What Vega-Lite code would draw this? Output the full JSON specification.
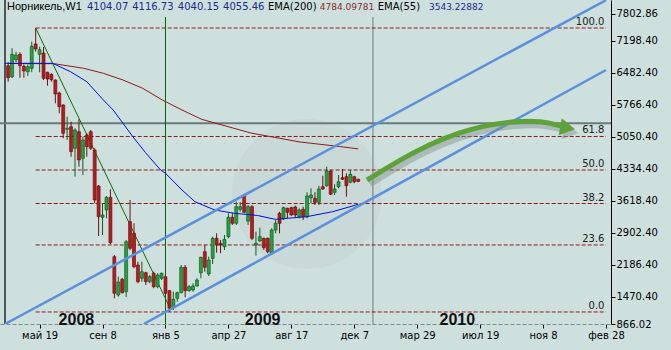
{
"$schema": "https://vega.github.io/schema/vega-lite/v6.json",
"width": 611, "height": 324,
"autosize": {"type": "none"},
"padding": {"left": 0, "top": 0, "right": 60, "bottom": 26},
"background": "#cee0de",
"config": {"view": {"stroke": null, "fill": "#cee0de"}, "font": "DejaVu Sans"},
"data": {"values": [{"one": 1}]},
"datasets": {
"candles": [
{"i":0,"o":6645.8,"h":6721.8,"l":6287.8,"c":6377.3},
{"i":1,"o":6399.6,"h":7035.1,"l":6370.5,"c":6900.8},
{"i":2,"o":6780,"h":6959,"l":6721.8,"c":6885.1},
{"i":3,"o":6900.8,"h":6945.6,"l":6377.3,"c":6645.8},
{"i":4,"o":6632.3,"h":6677.1,"l":6377.3,"c":6527.2},
{"i":5,"o":6511.5,"h":6677.1,"l":6415.3,"c":6623.4},
{"i":6,"o":6587.6,"h":7182.7,"l":6498.1,"c":7079.8},
{"i":7,"o":7131.3,"h":7489,"l":6959,"c":7019.4},
{"i":8,"o":6900.8,"h":7070.9,"l":6498.1,"c":7003.7},
{"i":9,"o":6929.9,"h":7064.2,"l":6325.8,"c":6363.8},
{"i":10,"o":6498.1,"h":6511.5,"l":6198.3,"c":6348.2},
{"i":11,"o":6453.3,"h":6475.7,"l":6287.8,"c":6332.5},
{"i":12,"o":6325.8,"h":6341.5,"l":5804.5,"c":6012.5},
{"i":13,"o":6034.9,"h":6064,"l":5580.7,"c":5728.4},
{"i":14,"o":5766.4,"h":5782.1,"l":5021.3,"c":5133.2},
{"i":15,"o":5222.7,"h":5504.6,"l":4983.3,"c":5245.1},
{"i":16,"o":5280.9,"h":5392.8,"l":4609.6,"c":4721.5},
{"i":17,"o":4797.6,"h":5245.1,"l":4162.1,"c":5207},
{"i":18,"o":5169,"h":5446.4,"l":4385.9,"c":4535.8},
{"i":19,"o":4573.8,"h":5057.1,"l":4200.2,"c":4983.3},
{"i":20,"o":5095.2,"h":5133.2,"l":4609.6,"c":4833.4},
{"i":21,"o":5169,"h":5207,"l":4759.5,"c":4797.6},
{"i":22,"o":4759.5,"h":4797.6,"l":3567,"c":3640.8},
{"i":23,"o":3954,"h":3976.4,"l":2835.3,"c":3267.1},
{"i":24,"o":3253.7,"h":3567,"l":2857.7,"c":3305.2},
{"i":25,"o":3417,"h":3730.3,"l":3231.3,"c":3701.2},
{"i":26,"o":3701.2,"h":3880.2,"l":2656.3,"c":2685.4},
{"i":27,"o":2372.1,"h":2410.2,"l":1441.3,"c":1553.2},
{"i":28,"o":1515.2,"h":1924.6,"l":1477.1,"c":1806},
{"i":29,"o":1866.5,"h":1895.5,"l":1548.7,"c":1566.6},
{"i":30,"o":1589,"h":2745.8,"l":1470.4,"c":2707.8},
{"i":31,"o":3155.3,"h":3640.8,"l":2522,"c":2560.1},
{"i":32,"o":2895.7,"h":3119.5,"l":2112.6,"c":2148.4},
{"i":33,"o":2186.4,"h":2260.3,"l":1777,"c":1812.8},
{"i":34,"o":1888.8,"h":2260.3,"l":1812.8,"c":2036.5},
{"i":35,"o":2014.1,"h":2036.5,"l":1738.9,"c":1812.8},
{"i":36,"o":1812.8,"h":1962.7,"l":1777,"c":1924.6},
{"i":37,"o":2000.7,"h":2036.5,"l":1665.1,"c":1700.9},
{"i":38,"o":1700.9,"h":2000.7,"l":1665.1,"c":1962.7},
{"i":39,"o":1888.8,"h":2014.1,"l":1850.8,"c":2000.7},
{"i":40,"o":1924.6,"h":1962.7,"l":1515.2,"c":1553.2},
{"i":41,"o":1611.4,"h":1627,"l":1134.8,"c":1217.6},
{"i":42,"o":1240,"h":1589,"l":1179.5,"c":1419},
{"i":43,"o":1441.3,"h":1589,"l":1365.3,"c":1566.6},
{"i":44,"o":1566.6,"h":2186.4,"l":1553.2,"c":2135},
{"i":45,"o":2135,"h":2186.4,"l":1463.7,"c":1611.4},
{"i":46,"o":1611.4,"h":1738.9,"l":1589,"c":1700.9},
{"i":47,"o":1627,"h":1777,"l":1589,"c":1716.5},
{"i":48,"o":1716.5,"h":1888.8,"l":1700.9,"c":1850.8},
{"i":49,"o":2014.1,"h":2372.1,"l":1888.8,"c":2358.7},
{"i":50,"o":2484,"h":2633.9,"l":2036.5,"c":2135},
{"i":51,"o":1985,"h":2372.1,"l":1940.3,"c":2298.3},
{"i":52,"o":2336.3,"h":2819.6,"l":2208.8,"c":2783.8},
{"i":53,"o":2783.8,"h":2895.7,"l":2461.6,"c":2633.9},
{"i":54,"o":2672,"h":2745.8,"l":2448.2,"c":2633.9},
{"i":55,"o":2595.9,"h":2857.7,"l":2522,"c":2761.4},
{"i":56,"o":2819.6,"h":3343.2,"l":2783.8,"c":3253.7},
{"i":57,"o":3253.7,"h":3356.6,"l":3081.4,"c":3119.5},
{"i":58,"o":3119.5,"h":3602.8,"l":3081.4,"c":3490.9},
{"i":59,"o":3432.7,"h":3589.3,"l":3379,"c":3490.9},
{"i":60,"o":3737,"h":3768.3,"l":3343.2,"c":3365.6},
{"i":61,"o":3170.9,"h":3528.9,"l":3081.4,"c":3490.9},
{"i":62,"o":3490.9,"h":3528.9,"l":2745.8,"c":2783.8},
{"i":63,"o":2633.9,"h":2931.5,"l":2394.5,"c":2672},
{"i":64,"o":2723.4,"h":3021,"l":2707.8,"c":2819.6},
{"i":65,"o":2783.8,"h":2797.3,"l":2522,"c":2573.5},
{"i":66,"o":2783.8,"h":2800,"l":2448.2,"c":2484},
{"i":67,"o":2448.2,"h":3007.6,"l":2410.2,"c":2969.5},
{"i":68,"o":2969.5,"h":3193.3,"l":2895.7,"c":3119.5},
{"i":69,"o":3343.2,"h":3379,"l":2895.7,"c":3119.5},
{"i":70,"o":3215.7,"h":3490.9,"l":3193.3,"c":3468.5},
{"i":71,"o":3455.1,"h":3468.5,"l":3231.3,"c":3365.6},
{"i":72,"o":3468.5,"h":3490.9,"l":3289.5,"c":3305.2},
{"i":73,"o":3484.2,"h":3513.3,"l":3244.8,"c":3305.2},
{"i":74,"o":3267.1,"h":3455.1,"l":3231.3,"c":3417},
{"i":75,"o":3432.7,"h":3490.9,"l":3193.3,"c":3267.1},
{"i":76,"o":3267.1,"h":3813.1,"l":3231.3,"c":3730.3},
{"i":77,"o":3692.3,"h":3902.6,"l":3567,"c":3752.7},
{"i":78,"o":3678.9,"h":3813.1,"l":3528.9,"c":3589.3},
{"i":79,"o":3589.3,"h":3960.8,"l":3528.9,"c":3886.9},
{"i":80,"o":3938.4,"h":4184.5,"l":3864.5,"c":3886.9},
{"i":81,"o":3960.8,"h":4385.9,"l":3938.4,"c":4289.7},
{"i":82,"o":4289.7,"h":4312,"l":3752.7,"c":3768.3},
{"i":83,"o":3813.1,"h":3992.1,"l":3752.7,"c":3886.9},
{"i":84,"o":3938.4,"h":4200.2,"l":3902.6,"c":4050.3},
{"i":85,"o":4139.8,"h":4334.4,"l":4088.3,"c":4104},
{"i":86,"o":4162.1,"h":4238.2,"l":3714.6,"c":3960.8},
{"i":87,"o":4036.8,"h":4312,"l":4014.5,"c":4215.8},
{"i":88,"o":4162.1,"h":4184.5,"l":4014.5,"c":4050.3},
{"i":89,"o":4104.07,"h":4116.73,"l":4040.15,"c":4055.46}
],
"ema200": [
{"i":0,"p":6695},{"i":11.7,"p":6690.5},{"i":19.2,"p":6587.6},{"i":24.2,"p":6475.7},{"i":29.2,"p":6325.8},{"i":34.2,"p":6140.1},{"i":39.2,"p":5878.3},{"i":44.2,"p":5654.5},{"i":49.2,"p":5446.4},{"i":61.7,"p":5139.9},{"i":74.2,"p":4938.5},{"i":84.2,"p":4837.8},{"i":89,"p":4784.1}
],
"ema55": [
{"i":-0.8,"p":6699.4},{"i":11.3,"p":6699.4},{"i":15.85,"p":6511.5},{"i":20,"p":6287.8},{"i":24.2,"p":5878.3},{"i":26.7,"p":5654.5},{"i":29.2,"p":5356.9},{"i":31.7,"p":5057.1},{"i":34.9,"p":4703.6},{"i":38.75,"p":4312},{"i":40,"p":4238.2},{"i":44.2,"p":3864.5},{"i":47.5,"p":3602.8},{"i":52.5,"p":3417},{"i":57.5,"p":3343.2},{"i":63.4,"p":3294},{"i":67.9,"p":3209},{"i":75.9,"p":3267.1},{"i":82.5,"p":3379},{"i":89,"p":3543.2}
],
"fib": [
{"lab":"100.0","p":7489},{"lab":"61.8","p":5061.8},{"lab":"50.0","p":4312},{"lab":"38.2","p":3562.2},{"lab":"23.6","p":2634.5},{"lab":"0.0","p":1135}
],
"channel": [
{"ln":"upper","i":-0.8,"p":866},{"ln":"upper","i":152,"p":8111},
{"ln":"lower","i":34.46,"p":866},{"ln":"lower","i":152,"p":6549}
],
"trend": [{"i":7,"p":7489},{"i":41,"p":1250}],
"arrow": [
{"i":91.23,"p":4088},{"i":95.48,"p":4312},{"i":100.48,"p":4580},{"i":106.74,"p":4871},{"i":114.24,"p":5140},{"i":121.74,"p":5319},{"i":129.24,"p":5408},{"i":135.5,"p":5408},{"i":140.5,"p":5296}
]
},
"encoding": {
"x": {"type": "quantitative", "scale": {"domain": [-0.8, 152], "nice": false, "zero": false},
  "axis": {"orient": "bottom", "title": null, "grid": false, "values": [8,24,40,56,72,88,104,120,136,152],
   "labelExpr": "['май 19','сен 8','янв 5','апр 27','авг 17','дек 7','мар 29','июл 19','ноя 8','фев 28'][round((datum.value-8)/16)]",
   "domainColor": "#7d8b89", "domainDash": [4, 2], "tickColor": "#000000", "tickSize": 4, "labelFont": "DejaVu Sans", "labelFontSize": 10, "labelColor": "#000000", "labelPadding": 2, "labelFlush": false, "labelOverlap": false}},
"y": {"type": "quantitative", "scale": {"domain": [866.02, 8115.775], "nice": false, "zero": false},
  "axis": {"orient": "right", "title": null, "grid": false, "values": [866.02,1470.4,2186.4,2902.4,3618.4,4334.4,5050.4,5766.4,6482.4,7198.4,7802.86],
   "format": ".2f", "domainColor": "#000000", "tickColor": "#000000", "tickSize": 4, "labelFont": "DejaVu Sans", "labelFontSize": 10, "labelColor": "#000000", "labelPadding": 1, "labelFlush": false, "labelOverlap": false}}
},
"layer": [
{"mark": {"type": "point", "shape": "circle", "filled": true, "size": 22500, "color": "#c8d9d7", "opacity": 1},
 "encoding": {"x": {"datum": 75.98}, "y": {"datum": 3775}}},
{"mark": {"type": "rule", "color": "#1e2c2b", "strokeWidth": 1.5},
 "encoding": {"x": {"datum": -0.8}}},
{"mark": {"type": "rule", "color": "#6b7b79", "strokeWidth": 2},
 "encoding": {"y": {"datum": 5357}}},
{"mark": {"type": "rule", "color": "#006400", "strokeWidth": 1},
 "encoding": {"x": {"datum": 40}, "y": {"datum": 7735}, "y2": {"datum": 866.02}}},
{"mark": {"type": "rule", "color": "#6b7b79", "strokeWidth": 1},
 "encoding": {"x": {"datum": 92.75}, "y": {"datum": 7735}, "y2": {"datum": 866.02}}},
{"data": {"name": "fib"},
 "mark": {"type": "rule", "color": "#8b1c1c", "strokeWidth": 1, "strokeDash": [4, 2]},
 "encoding": {"x": {"datum": 7}, "x2": {"datum": 152}, "y": {"field": "p", "type": "quantitative"}}},
{"data": {"name": "fib"},
 "mark": {"type": "text", "align": "right", "baseline": "bottom", "dy": -1, "fontSize": 10, "font": "DejaVu Sans", "color": "#202020"},
 "encoding": {"x": {"datum": 151.6}, "y": {"field": "p", "type": "quantitative"}, "text": {"field": "lab"}}},
{"data": {"name": "trend"},
 "mark": {"type": "line", "color": "#0a6e0a", "strokeWidth": 1},
 "encoding": {"x": {"field": "i", "type": "quantitative"}, "y": {"field": "p", "type": "quantitative"}}},
{"data": {"name": "candles"},
 "mark": {"type": "rule", "strokeWidth": 1},
 "encoding": {"x": {"field": "i", "type": "quantitative"}, "y": {"field": "l", "type": "quantitative"}, "y2": {"field": "h"},
  "color": {"condition": {"test": "datum.c >= datum.o", "value": "#0d5e1d"}, "value": "#6e0f0f"}}},
{"data": {"name": "candles"},
 "mark": {"type": "bar", "width": 3, "strokeWidth": 0.6},
 "encoding": {"x": {"field": "i", "type": "quantitative"}, "y": {"field": "o", "type": "quantitative"}, "y2": {"field": "c"},
  "fill": {"condition": {"test": "datum.c >= datum.o", "value": "#23a340"}, "value": "#b51c1c"},
  "stroke": {"condition": {"test": "datum.c >= datum.o", "value": "#0b4d18"}, "value": "#5e0c0c"}}},
{"data": {"name": "ema200"},
 "mark": {"type": "line", "color": "#8b1a1a", "strokeWidth": 1},
 "encoding": {"x": {"field": "i", "type": "quantitative"}, "y": {"field": "p", "type": "quantitative"}}},
{"data": {"name": "ema55"},
 "mark": {"type": "line", "color": "#0010e0", "strokeWidth": 1},
 "encoding": {"x": {"field": "i", "type": "quantitative"}, "y": {"field": "p", "type": "quantitative"}}},
{"data": {"name": "channel"},
 "mark": {"type": "line", "color": "#5a90dc", "strokeWidth": 2.5, "clip": true},
 "encoding": {"x": {"field": "i", "type": "quantitative"}, "y": {"field": "p", "type": "quantitative"}, "detail": {"field": "ln"}}},
{"data": {"name": "arrow"},
 "mark": {"type": "line", "color": "#7f8f8d", "opacity": 0.45, "strokeWidth": 6, "interpolate": "basis", "xOffset": 3, "yOffset": 4},
 "encoding": {"x": {"field": "i", "type": "quantitative"}, "y": {"field": "p", "type": "quantitative"}}},
{"mark": {"type": "point", "shape": "triangle-right", "filled": true, "size": 300, "color": "#7f8f8d", "opacity": 0.45, "angle": 10, "xOffset": 3, "yOffset": 4},
 "encoding": {"x": {"datum": 142.25}, "y": {"datum": 5251.7}}},
{"data": {"name": "arrow"},
 "mark": {"type": "line", "color": "#5ea33a", "strokeWidth": 5, "interpolate": "basis"},
 "encoding": {"x": {"field": "i", "type": "quantitative"}, "y": {"field": "p", "type": "quantitative"}}},
{"mark": {"type": "point", "shape": "triangle-right", "filled": true, "size": 300, "color": "#5ea33a", "opacity": 1, "angle": 10},
 "encoding": {"x": {"datum": 142.25}, "y": {"datum": 5251.7}}},
{"mark": {"type": "text", "font": "Liberation Sans", "fontWeight": "bold", "fontSize": 16, "color": "#111111", "baseline": "middle", "align": "center"},
 "encoding": {"x": {"datum": 17.35}, "y": {"datum": 960}, "text": {"value": "2008"}}},
{"mark": {"type": "text", "font": "Liberation Sans", "fontWeight": "bold", "fontSize": 16, "color": "#111111", "baseline": "middle", "align": "center"},
 "encoding": {"x": {"datum": 64.7}, "y": {"datum": 960}, "text": {"value": "2009"}}},
{"mark": {"type": "text", "font": "Liberation Sans", "fontWeight": "bold", "fontSize": 16, "color": "#111111", "baseline": "middle", "align": "center"},
 "encoding": {"x": {"datum": 114.2}, "y": {"datum": 960}, "text": {"value": "2010"}}},
{"mark": {"type": "text", "font": "Liberation Sans", "fontSize": 11, "color": "#000000", "baseline": "middle", "align": "left"},
 "encoding": {"x": {"datum": -0.3}, "y": {"datum": 7959}, "text": {"value": "Норникель,W1"}}},
{"mark": {"type": "text", "font": "DejaVu Sans", "fontSize": 10, "color": "#1c2a8c", "baseline": "middle", "align": "left"},
 "encoding": {"x": {"datum": 20.03}, "y": {"datum": 7959}, "text": {"value": "4104.07"}}},
{"mark": {"type": "text", "font": "DejaVu Sans", "fontSize": 10, "color": "#1c2a8c", "baseline": "middle", "align": "left"},
 "encoding": {"x": {"datum": 31.53}, "y": {"datum": 7959}, "text": {"value": "4116.73"}}},
{"mark": {"type": "text", "font": "DejaVu Sans", "fontSize": 10, "color": "#1c2a8c", "baseline": "middle", "align": "left"},
 "encoding": {"x": {"datum": 43.14}, "y": {"datum": 7959}, "text": {"value": "4040.15"}}},
{"mark": {"type": "text", "font": "DejaVu Sans", "fontSize": 10, "color": "#1c2a8c", "baseline": "middle", "align": "left"},
 "encoding": {"x": {"datum": 54.64}, "y": {"datum": 7959}, "text": {"value": "4055.46"}}},
{"mark": {"type": "text", "font": "DejaVu Sans", "fontSize": 10, "color": "#000000", "baseline": "middle", "align": "left"},
 "encoding": {"x": {"datum": 66.05}, "y": {"datum": 7959}, "text": {"value": "EMA(200)"}}},
{"mark": {"type": "text", "font": "DejaVu Sans", "fontSize": 9, "color": "#8b2a2a", "baseline": "middle", "align": "left"},
 "encoding": {"x": {"datum": 79.23}, "y": {"datum": 7959}, "text": {"value": "4784.09781"}}},
{"mark": {"type": "text", "font": "DejaVu Sans", "fontSize": 10, "color": "#000000", "baseline": "middle", "align": "left"},
 "encoding": {"x": {"datum": 93.98}, "y": {"datum": 7959}, "text": {"value": "EMA(55)"}}},
{"mark": {"type": "text", "font": "DejaVu Sans", "fontSize": 9, "color": "#1c2a8c", "baseline": "middle", "align": "left"},
 "encoding": {"x": {"datum": 106.99}, "y": {"datum": 7959}, "text": {"value": "3543.22882"}}}
]
}
